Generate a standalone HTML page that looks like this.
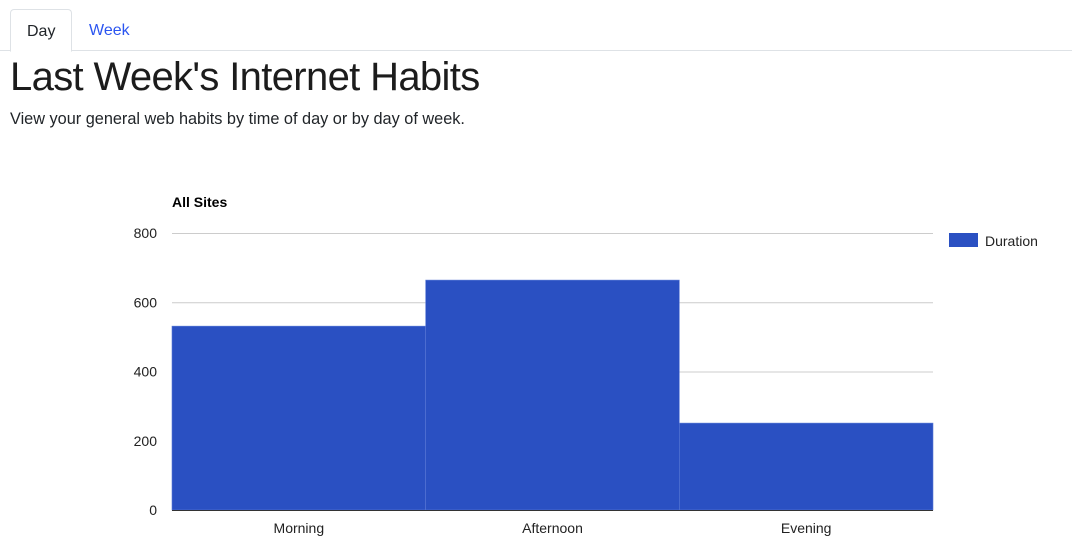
<!DOCTYPE html>
<html><head><meta charset="utf-8"><style>
body{margin:0;width:1072px;height:551px;background:#fff;font-family:"Liberation Sans",sans-serif;color:#212529;position:relative;overflow:hidden}
.tabs{position:absolute;left:0;top:0;width:1072px;height:50px;border-bottom:1px solid #dee2e6}
.tab{position:absolute;top:9px;height:41px;line-height:43px;font-size:16px;padding:0 16px}
.tab.active{left:10px;border:1px solid #dee2e6;border-bottom:1px solid #fff;border-radius:4px 4px 0 0;background:#fff;height:41px}
.tab.week{left:73px;color:#2b55f0}
h1{position:absolute;left:10px;top:55px;margin:0;font-size:40px;font-weight:400;letter-spacing:-0.65px;color:#1c1c1c}
p{position:absolute;left:10px;top:110px;margin:0;font-size:16.3px}
</style></head><body>
<div class="tabs">
<div class="tab active">Day</div>
<div class="tab week">Week</div>
</div>
<h1>Last Week's Internet Habits</h1>
<p>View your general web habits by time of day or by day of week.</p>
<svg id="chart" width="1072" height="551" style="position:absolute;left:0;top:0"></svg>
<script>
const categories=["Morning","Afternoon","Evening"];
const durations=[531,664,251];
const yTicks=[0,200,400,600,800];
const NS="http://www.w3.org/2000/svg";
const svg=document.getElementById('chart');
const x0=172,x1=933,y0=510,yTop=233,yMax=800;
const y=v=>y0-(v/yMax)*(y0-yTop);
const bw=(x1-x0)/categories.length;
const xs=i=>x0+i*bw;
function mk(tag,attrs,text){const e=document.createElementNS(NS,tag);for(const k in attrs)e.setAttribute(k,attrs[k]);if(text!==undefined)e.textContent=text;svg.appendChild(e);return e;}
const title=mk('text',{x:172,y:207,'font-size':14,'font-weight':'bold',fill:'#000','font-family':'Liberation Sans'},'All Sites');


yTicks.forEach(t=>{
 if(t>0){const g=mk('line',{x1:x0,x2:x1,y1:y(t)+0.5,y2:y(t)+0.5,stroke:'#ccc','stroke-width':1});
 
 }
 const l=mk('text',{x:157,y:y(t)+5,'text-anchor':'end','font-size':14,fill:'#222','font-family':'Liberation Sans'},String(t));
 
 
});
categories.forEach((c,i)=>{
 const r=mk('rect',{x:xs(i),y:y(durations[i]),width:bw,height:y0-y(durations[i]),fill:'#2a50c2',stroke:'#5a7ad6','stroke-width':0.6});
 
 
 const l=mk('text',{x:xs(i)+bw/2,y:533,'text-anchor':'middle','font-size':14,fill:'#222','font-family':'Liberation Sans'},c);
 
 
});
const ax=mk('line',{x1:x0,x2:x1,y1:y0+0.5,y2:y0+0.5,stroke:'#333','stroke-width':1});


const sw=mk('rect',{x:949,y:233,width:29,height:14,fill:'#2a50c2'});


const lt=mk('text',{x:985,y:246,'font-size':14,fill:'#222','font-family':'Liberation Sans'},'Duration');


</script>
</body></html>
